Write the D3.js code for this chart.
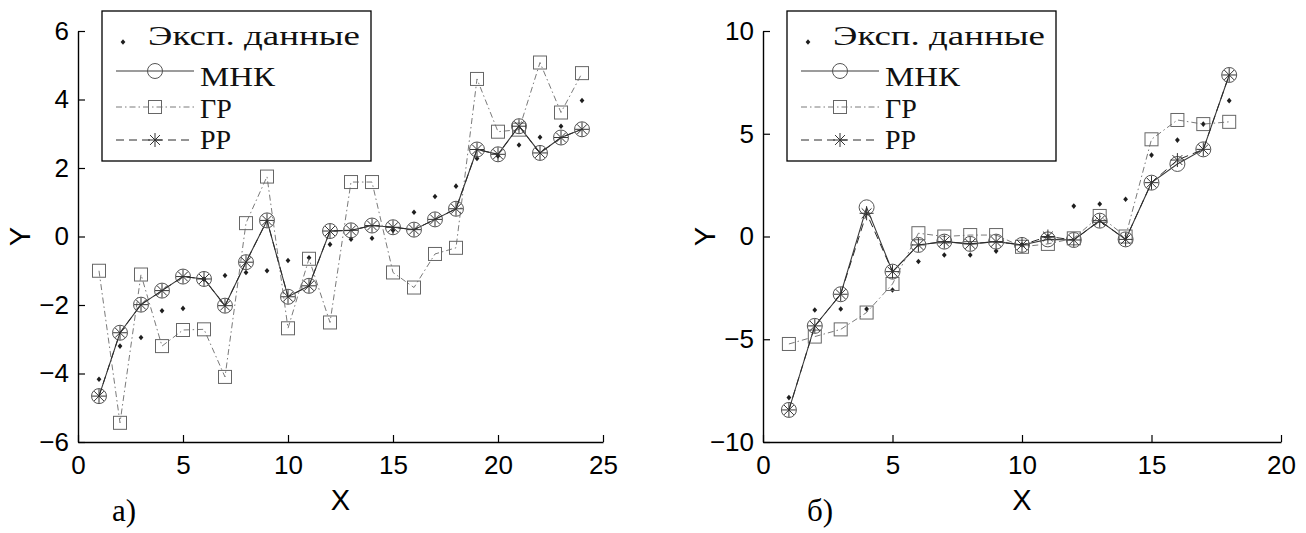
<!DOCTYPE html>
<html>
<head>
<meta charset="utf-8">
<script src="https://cdn.jsdelivr.net/npm/d3@7/dist/d3.min.js"></script>
<style>
  body { margin: 0; background: #fff; }
  .serif { font-family: "Liberation Serif", "Times New Roman", Tinos, "DejaVu Serif", "Noto Serif", serif; }
  .sans { font-family: "Liberation Sans", Arial, Arimo, sans-serif; }
</style>
</head>
<body>
<script>
// chart values
const xA = [1, 2, 3, 4, 5, 6, 7, 8, 9, 10, 11, 12, 13, 14, 15, 16, 17, 18, 19, 20, 21, 22, 23, 24];
const expA = [-4.17, -3.2, -2.95, -2.17, -2.1, -1.25, -1.14, -1.05, -1.0, -0.7, -0.62, -0.23, -0.08, -0.05, 0.18, 0.71, 1.17, 1.47, 2.28, 2.35, 2.67, 2.9, 3.22, 3.97];
const mnkA = [-4.66, -2.81, -1.99, -1.58, -1.17, -1.24, -2.02, -0.75, 0.47, -1.76, -1.44, 0.16, 0.18, 0.32, 0.27, 0.2, 0.5, 0.81, 2.54, 2.4, 3.22, 2.44, 2.89, 3.13];
const grA = [-1.0, -5.44, -1.11, -3.2, -2.73, -2.71, -4.1, 0.39, 1.75, -2.68, -0.65, -2.51, 1.59, 1.59, -1.05, -1.49, -0.51, -0.33, 4.6, 3.06, 3.12, 5.08, 3.62, 4.77];
const rrA = [-4.66, -2.81, -1.99, -1.58, -1.17, -1.24, -2.02, -0.75, 0.47, -1.76, -1.44, 0.16, 0.18, 0.32, 0.27, 0.2, 0.5, 0.81, 2.54, 2.4, 3.22, 2.44, 2.89, 3.13];

const xB = [1, 2, 3, 4, 5, 6, 7, 8, 9, 10, 11, 12, 13, 14, 15, 16, 17, 18];
const expB = [-7.84, -3.58, -3.53, -3.53, -2.6, -1.22, -0.9, -0.9, -0.71, -0.4, 0.0, 1.48, 1.58, 1.81, 3.96, 4.69, 5.47, 6.61];
const mnkB = [-8.44, -4.35, -2.81, 1.42, -1.71, -0.41, -0.25, -0.36, -0.25, -0.41, -0.14, -0.17, 0.77, -0.14, 2.62, 3.53, 4.24, 7.86];
const grB = [-5.23, -4.87, -4.52, -3.7, -2.31, 0.16, 0.0, 0.07, 0.07, -0.5, -0.36, -0.09, 1.0, 0.0, 4.73, 5.67, 5.47, 5.58];
const rrB = [-8.44, -4.35, -2.81, 1.13, -1.71, -0.41, -0.25, -0.36, -0.25, -0.41, 0.0, -0.17, 0.77, -0.14, 2.62, 3.72, 4.24, 7.86];

// tick labels
const xTicksA = [0, 5, 10, 15, 20, 25];
const yTicksA = [-6, -4, -2, 0, 2, 4, 6];
const xTicksB = [0, 5, 10, 15, 20];
const yTicksB = [-10, -5, 0, 5, 10];

const legendLabels = ['Эксп. данные', 'МНК', 'ГР', 'РР'];
const panelLabels = ['а)', 'б)'];

const svg = d3.select('body')
  .append('svg')
  .attr('width', 1306)
  .attr('height', 533);

// marker shapes
const diamond = 'M0,-2.8L2.4,0L0,2.8L-2.4,0Z';
const asterisk = (r) => {
  let p = '';
  for (let k = 0; k < 4; k++) {
    const a = k * Math.PI / 4;
    const dx = r * Math.cos(a), dy = r * Math.sin(a);
    p += `M${-dx},${-dy}L${dx},${dy}`;
  }
  return p;
};

const styles = {
  mnk: {line: '#3a3a3a', width: 1.1, dash: null, mark: '#555'},
  gr: {line: '#7a7a7a', width: 1, dash: '6,3,1.5,3', mark: '#666'},
  rr: {line: '#2a2a2a', width: 1, dash: '8,5', mark: '#333'}
};

const drawMarker = (g, type, cx, cy) => {
  if (type === 'exp') {
    g.append('path').attr('d', diamond)
      .attr('transform', `translate(${cx},${cy})`)
      .attr('fill', '#1e1e1e');
  } else if (type === 'mnk') {
    g.append('circle').attr('cx', cx).attr('cy', cy).attr('r', 7.5)
      .attr('fill', 'none').attr('stroke', styles.mnk.mark).attr('stroke-width', 1);
  } else if (type === 'gr') {
    g.append('rect').attr('x', cx - 6.5).attr('y', cy - 6.5)
      .attr('width', 13).attr('height', 13)
      .attr('fill', 'none').attr('stroke', styles.gr.mark).attr('stroke-width', 1);
  } else {
    g.append('path').attr('d', asterisk(7))
      .attr('transform', `translate(${cx},${cy})`)
      .attr('fill', 'none').attr('stroke', styles.rr.mark).attr('stroke-width', 1);
  }
};

const drawPanel = (cfg) => {
  const x = d3.scaleLinear().domain(cfg.xDomain).range(cfg.xRange);
  const y = d3.scaleLinear().domain(cfg.yDomain).range(cfg.yRange);
  const g = svg.append('g');

  // axes, ticks point inward
  const xAxisGroup = g.append('g')
    .attr('transform', `translate(0, ${cfg.yRange[0]})`)
    .call(d3.axisBottom(x).tickValues(cfg.xTicks).tickSizeInner(-7).tickSizeOuter(0).tickPadding(14));
  const yAxisGroup = g.append('g')
    .attr('transform', `translate(${cfg.xRange[0]}, 0)`)
    .call(d3.axisLeft(y).tickValues(cfg.yTicks).tickSizeInner(-7).tickSizeOuter(0).tickPadding(9));

  [xAxisGroup, yAxisGroup].forEach(ax => {
    ax.attr('font-family', null).attr('font-size', 26).attr('class', 'sans');
    ax.select('.domain').attr('stroke', '#000').attr('stroke-width', 1.4);
    ax.selectAll('.tick line').attr('stroke', '#000').attr('stroke-width', 1.2);
    ax.selectAll('.tick text').attr('fill', '#000');
  });

  // axis titles
  g.append('text')
    .attr('class', 'sans')
    .attr('x', (cfg.xRange[0] + cfg.xRange[1]) / 2)
    .attr('y', 510)
    .attr('text-anchor', 'middle')
    .attr('font-size', 29)
    .text('X');
  g.append('text')
    .attr('class', 'sans')
    .attr('transform', `translate(${cfg.xRange[0] - 48}, ${(cfg.yRange[0] + cfg.yRange[1]) / 2}) rotate(-90)`)
    .attr('text-anchor', 'middle')
    .attr('font-size', 29)
    .text('Y');

  // panel label
  g.append('text')
    .attr('class', 'serif')
    .attr('x', cfg.labelX)
    .attr('y', 521)
    .attr('font-size', 31)
    .text(cfg.label);

  const series = [
    {key: 'mnk', values: cfg.mnk},
    {key: 'gr', values: cfg.gr},
    {key: 'rr', values: cfg.rr}
  ];

  // experimental points first
  const dots = g.append('g');
  cfg.exp.forEach((v, i) => drawMarker(dots, 'exp', x(cfg.xs[i]), y(v)));

  series.forEach(s => {
    const st = styles[s.key];
    const line = d3.line()
      .x((d, i) => x(cfg.xs[i]))
      .y(d => y(d));
    g.append('path')
      .datum(s.values)
      .attr('d', line)
      .attr('fill', 'none')
      .attr('stroke', st.line)
      .attr('stroke-width', st.width)
      .attr('stroke-dasharray', st.dash);
    const mg = g.append('g');
    s.values.forEach((v, i) => drawMarker(mg, s.key, x(cfg.xs[i]), y(v)));
  });

  // legend
  const lx = cfg.xRange[0] + 24, ly = 11;
  const lg = g.append('g').attr('transform', `translate(${lx}, ${ly})`);
  lg.append('rect')
    .attr('width', 269).attr('height', 150)
    .attr('fill', '#fff').attr('stroke', '#000').attr('stroke-width', 1.3);

  const rowY = [31, 60, 96, 129];
  const textY = [34, 75, 107, 138];
  const textW = [212, 75, null, null]; // the scan's legend text is a bit wider
  const keys = ['exp', 'mnk', 'gr', 'rr'];
  keys.forEach((k, i) => {
    if (k === 'exp') {
      drawMarker(lg, 'exp', 21, rowY[i]);
    } else {
      const st = styles[k];
      lg.append('line')
        .attr('x1', 14).attr('x2', 92)
        .attr('y1', rowY[i]).attr('y2', rowY[i])
        .attr('stroke', st.line)
        .attr('stroke-width', st.width)
        .attr('stroke-dasharray', st.dash);
      drawMarker(lg, k, 53, rowY[i]);
    }
    const t = lg.append('text')
      .attr('class', 'serif')
      .attr('x', k === 'exp' ? 46 : 98)
      .attr('y', textY[i])
      .attr('font-size', 28)
      .attr('fill', '#111')
      .text(legendLabels[i]);
    if (textW[i]) t.attr('textLength', textW[i]).attr('lengthAdjust', 'spacingAndGlyphs');
  });
};

drawPanel({
  xs: xA, exp: expA, mnk: mnkA, gr: grA, rr: rrA,
  xDomain: [0, 25], yDomain: [-6, 6],
  xRange: [78, 603], yRange: [442, 31],
  xTicks: xTicksA, yTicks: yTicksA,
  label: panelLabels[0], labelX: 112
});

drawPanel({
  xs: xB, exp: expB, mnk: mnkB, gr: grB, rr: rrB,
  xDomain: [0, 20], yDomain: [-10, 10],
  xRange: [763, 1281], yRange: [442, 31],
  xTicks: xTicksB, yTicks: yTicksB,
  label: panelLabels[1], labelX: 807
});
</script>
</body>
</html>
